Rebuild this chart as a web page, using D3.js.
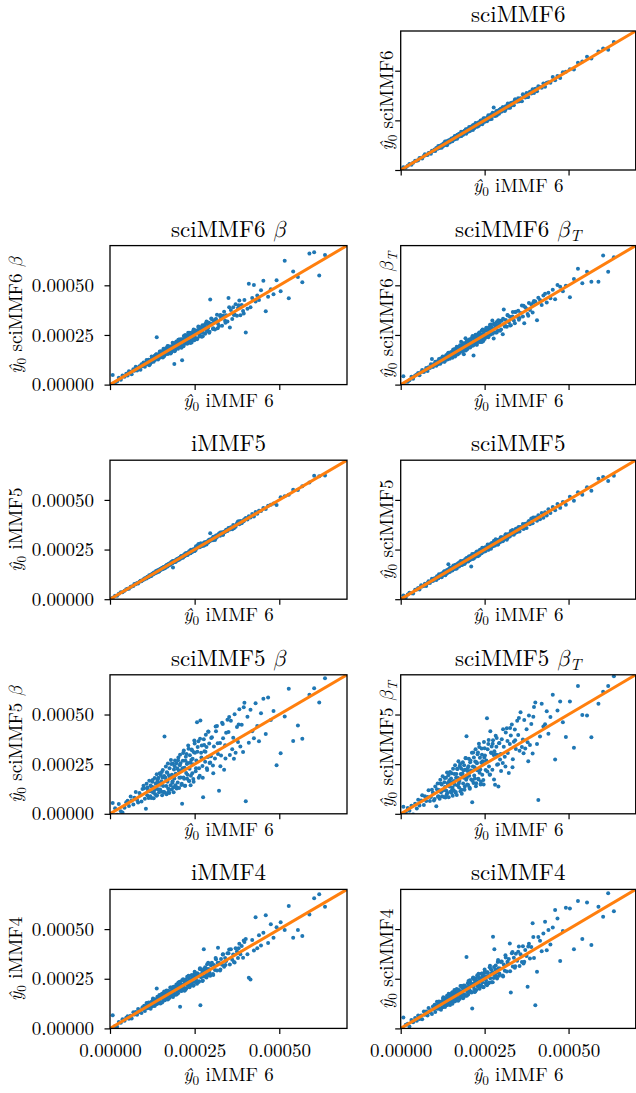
<!DOCTYPE html>
<html>
<head>
<meta charset="utf-8">
<script src="https://cdn.jsdelivr.net/npm/d3@7"></script>
<style>
  body { margin: 0; background: #fff; }
  svg { display: block; }
</style>
</head>
<body>
<svg id="chart" width="636" height="1093"></svg>
<script>
// all values in units of 1e-5

// y0 iMMF 6 (shared x of every panel)
var x_iMMF6 = [
  0.8, 1.5, 2.1, 2.6, 3.2, 3.7, 4.3, 4.8,
  5.2, 5.6, 6.1, 6.4, 6.9, 7.2, 7.6, 8.0, 8.3, 8.7, 9.0, 9.3, 9.6, 9.9,
  10.1, 10.3, 10.6, 10.8, 11.0, 11.2, 11.4, 11.6, 11.8, 12.0, 12.2, 12.3, 12.5, 12.7, 12.9, 13.0, 13.2, 13.3, 13.5, 13.6, 13.8, 13.9, 14.0, 14.2, 14.3, 14.5, 14.6, 14.7, 14.8, 14.9,
  15.0, 15.1, 15.2, 15.4, 15.5, 15.6, 15.7, 15.8, 16.0, 16.1, 16.2, 16.3, 16.5, 16.6, 16.7, 16.8, 17.0, 17.1, 17.2, 17.4, 17.5, 17.6, 17.8, 17.9, 18.0, 18.2, 18.3, 18.5, 18.6, 18.8, 18.9, 19.0, 19.2, 19.3, 19.5, 19.6, 19.8, 19.9,
  20.0, 20.1, 20.3, 20.4, 20.6, 20.7, 20.9, 21.0, 21.2, 21.3, 21.5, 21.7, 21.8, 22.0, 22.1, 22.3, 22.5, 22.6, 22.8, 23.0, 23.1, 23.3, 23.5, 23.6, 23.8, 24.0, 24.1, 24.3, 24.5, 24.6, 24.8, 24.9,
  25.1, 25.3, 25.5, 25.7, 25.9, 26.1, 26.3, 26.5, 26.7, 26.9, 27.1, 27.3, 27.5, 27.7, 27.9, 28.1, 28.3, 28.5, 28.7, 28.9, 29.1, 29.3, 29.6, 29.8,
  30.1, 30.4, 30.7, 31.0, 31.3, 31.6, 31.9, 32.2, 32.5, 32.8, 33.1, 33.4, 33.7, 34.0, 34.3, 34.7,
  35.0, 35.4, 35.7, 36.1, 36.4, 36.8, 37.1, 37.5, 37.8, 38.2, 38.5, 38.9, 39.3, 39.7,
  40.1, 40.6, 41.0, 41.5, 42.0, 42.5, 43.0, 43.5, 44.0, 44.6,
  45.3, 46.0, 46.7, 47.5, 48.3, 49.2,
  50.4, 51.6, 52.8, 54.1,
  55.5, 56.8, 58.9,
  60.3, 61.8, 63.5,
  11.1, 11.9, 12.6, 13.1, 13.7, 14.1, 14.4, 15.3, 15.9, 16.4,
  16.9, 17.3, 17.7, 18.1, 18.4, 18.7, 19.1, 19.4, 19.7, 20.2,
  20.5, 20.8, 21.1, 21.4, 21.6, 21.9, 22.2, 22.4, 22.7, 22.9,
  23.2, 23.4, 23.7, 23.9, 24.2, 24.4, 24.7, 25.0, 25.4, 25.8,
  26.2, 26.6, 27.0, 27.4, 27.8, 28.2, 28.6, 29.0, 29.4, 29.9,
  30.5, 31.2, 31.8, 32.6, 33.3, 34.1, 35.2, 36.6, 38.0, 39.5
];

var y_sciMMF6 = [
  1.4, 1.3, 2.2, 3.0, 2.7, 3.7, 4.6, 4.7,
  4.9, 6.1, 6.2, 5.8, 7.1, 7.9, 7.5, 7.6, 8.6, 8.7, 8.2, 9.7, 9.7, 9.7,
  10.3, 9.6, 11.1, 10.9, 10.7, 12.1, 11.3, 11.1, 12.2, 12.2, 11.2, 12.6, 12.3, 13.3, 12.9, 12.6, 14.3, 12.7, 13.6, 14.0, 12.5, 14.1, 13.7, 14.9, 14.2, 15.0, 13.8, 14.8, 15.1, 14.4,
  14.6, 15.9, 15.4, 14.5, 15.8, 15.6, 16.3, 15.3, 15.9, 17.1, 15.5, 16.7, 16.6, 16.3, 17.4, 15.7, 17.2, 17.6, 17.0, 18.3, 16.9, 17.6, 18.1, 17.1, 19.2, 17.8, 18.4, 19.1, 17.7, 19.0, 18.8, 19.8, 18.7, 19.7, 18.3, 19.9, 20.5, 19.7,
  20.5, 19.3, 20.4, 21.6, 20.3, 19.8, 21.5, 21.2, 20.7, 22.2, 20.2, 22.0, 21.8, 22.7, 21.5, 23.7, 22.3, 23.0, 21.8, 23.1, 23.9, 22.9, 23.7, 22.9, 24.9, 23.9, 24.6, 23.1, 24.8, 25.5, 24.3, 24.9,
  26.0, 24.9, 25.7, 24.6, 26.5, 27.6, 25.6, 26.6, 26.4, 27.9, 25.7, 27.7, 28.3, 31.5, 27.7, 27.2, 28.8, 29.7, 28.1, 28.9, 29.8, 28.3, 29.9, 30.9,
  29.5, 31.6, 31.0, 29.7, 32.1, 31.4, 33.5, 31.3, 32.9, 33.8, 32.6, 33.6, 32.6, 35.3, 34.9, 34.4,
  36.1, 34.6, 36.1, 34.6, 38.1, 37.0, 36.5, 38.8, 36.7, 38.7, 39.4, 38.5, 40.7, 38.8,
  40.9, 39.7, 42.2, 41.8, 41.4, 43.5, 41.9, 44.0, 44.2, 43.9,
  46.8, 45.2, 47.3, 46.3, 49.2, 49.5,
  50.8, 50.6, 54.0, 54.7,
  57.0, 56.1, 59.7,
  61.2, 60.6, 64.5,
  10.9, 12.3, 12.0, 13.4, 14.5, 13.7, 14.5, 14.6, 16.4, 16.4,
  17.8, 17.0, 17.9, 17.1, 19.0, 19.0, 18.6, 20.5, 19.5, 20.6,
  19.7, 21.5, 21.2, 21.0, 22.6, 21.0, 22.5, 23.0, 22.4, 23.1,
  22.1, 23.9, 23.6, 24.8, 23.6, 24.6, 26.0, 24.3, 25.8, 25.6,
  27.0, 25.6, 27.3, 28.8, 27.3, 28.3, 27.4, 29.6, 30.3, 29.5,
  31.6, 30.4, 32.3, 31.3, 34.0, 35.6, 34.6, 37.6, 36.8, 40.3
];

var y_sciMMF6_beta = [
  4.8, 0.2, 1.6, 3.4, 2.5, 4.6, 3.9, 5.5,
  4.6, 6.7, 6.4, 5.2, 7.7, 7.0, 9.0, 7.1, 8.4, 9.3, 7.5, 10.2, 9.3, 11.1,
  11.0, 9.0, 11.0, 12.4, 10.3, 11.0, 12.5, 9.8, 12.4, 12.2, 11.2, 14.2, 12.1, 13.5, 11.5, 13.3, 14.5, 12.4, 13.4, 15.1, 23.8, 13.3, 14.7, 12.6, 15.3, 14.6, 13.5, 16.7, 14.3, 15.4,
  13.8, 16.8, 15.5, 14.6, 16.6, 13.6, 16.3, 18.0, 15.6, 14.6, 17.1, 16.4, 15.4, 18.4, 16.1, 17.2, 19.4, 15.4, 17.4, 16.5, 18.9, 17.3, 18.6, 15.7, 19.2, 18.7, 17.0, 21.1, 18.4, 17.8, 20.5, 10.4, 19.9, 17.5, 20.5, 21.7, 19.1, 20.2,
  21.4, 18.0, 20.9, 22.7, 19.6, 20.4, 22.8, 19.4, 22.0, 12.2, 22.6, 19.3, 24.5, 22.2, 20.8, 23.9, 21.9, 24.6, 20.6, 23.9, 26.1, 22.2, 23.3, 26.1, 22.0, 25.2, 21.2, 24.8, 26.7, 23.2, 25.5, 22.3,
  27.4, 23.4, 26.2, 22.9, 27.4, 29.2, 25.4, 24.3, 27.9, 27.2, 24.1, 29.9, 26.1, 28.6, 29.9, 25.6, 28.7, 31.8, 27.0, 28.4, 31.3, 26.1, 42.8, 30.8,
  32.9, 28.0, 31.6, 27.7, 33.0, 35.2, 30.7, 29.5, 34.6, 33.2, 29.6, 34.7, 36.7, 32.2, 34.9, 31.8,
  43.6, 28.8, 37.6, 33.0, 39.0, 35.3, 40.5, 34.7, 38.6, 42.3, 34.9, 40.1, 37.1, 42.6,
  26.3, 38.2, 50.8, 39.0, 43.6, 50.2, 41.8, 44.9, 42.6, 47.5,
  52.3, 37.0, 44.3, 48.0, 45.5, 52.5,
  47.0, 62.4, 43.5, 57.0,
  54.2, 51.5, 66.0,
  66.6, 54.9, 65.3,
  11.7, 10.5, 13.6, 12.8, 15.3, 13.2, 14.6, 16.6, 14.2, 16.9,
  16.1, 19.3, 17.6, 16.2, 19.5, 19.1, 16.8, 21.1, 19.1, 22.6,
  19.3, 21.6, 18.6, 22.9, 21.7, 20.3, 25.0, 21.7, 23.7, 20.9,
  25.4, 23.0, 21.0, 25.3, 24.8, 22.5, 27.8, 23.9, 25.7, 23.2,
  28.9, 25.8, 28.9, 24.4, 28.3, 30.6, 27.1, 30.1, 26.6, 33.3,
  28.4, 32.8, 28.4, 35.1, 34.0, 31.2, 39.0, 35.0, 40.0, 35.8
];

var y_sciMMF6_betaT = [
  4.2, -0.3, 1.4, 2.2, 3.9, 3.0, 4.6, 5.1,
  5.9, 4.7, 6.3, 7.4, 6.4, 7.1, 8.4, 6.9, 8.7, 8.4, 10.2, 12.9, 8.9, 10.4,
  9.7, 11.5, 9.5, 11.1, 11.8, 10.6, 12.9, 11.4, 10.5, 12.9, 12.3, 11.5, 14.2, 12.4, 13.4, 11.5, 14.2, 13.5, 12.6, 14.9, 13.7, 12.7, 14.7, 16.1, 13.8, 14.9, 13.0, 15.8, 15.1, 14.2,
  16.4, 14.1, 15.5, 13.5, 16.4, 17.6, 15.3, 14.4, 17.1, 16.3, 14.1, 17.9, 15.8, 17.2, 19.0, 15.6, 16.8, 18.4, 15.5, 18.2, 17.6, 16.1, 19.7, 17.1, 21.6, 17.9, 19.3, 16.6, 20.8, 15.3, 19.4, 17.7, 21.0, 23.3, 18.6, 20.8, 17.8, 20.6,
  21.6, 18.7, 20.7, 22.7, 19.7, 18.7, 22.1, 21.1, 19.6, 23.9, 21.0, 14.6, 23.7, 20.8, 22.8, 25.1, 20.2, 22.9, 24.2, 22.0, 25.6, 21.5, 23.5, 25.3, 21.4, 24.9, 27.1, 23.0, 24.7, 22.0, 26.9, 24.3,
  27.1, 23.8, 28.6, 25.0, 27.3, 23.9, 28.9, 27.3, 25.1, 30.3, 28.2, 32.3, 26.5, 23.2, 30.1, 28.4, 26.3, 31.4, 29.7, 27.2, 32.4, 29.8, 27.1, 32.2,
  32.1, 25.4, 37.8, 29.2, 32.5, 29.1, 34.8, 31.4, 34.2, 29.9, 33.7, 36.6, 32.3, 30.9, 36.7, 34.2,
  37.2, 33.5, 36.1, 39.8, 34.3, 30.9, 38.9, 38.1, 35.5, 41.1, 37.6, 40.4, 36.3, 42.1,
  41.9, 32.4, 43.8, 42.6, 40.1, 44.9, 45.7, 41.3, 46.2, 43.5,
  47.8, 43.0, 50.1, 49.3, 47.0, 49.8,
  44.0, 53.2, 58.3, 51.0,
  56.8, 51.8, 51.8,
  65.0, 56.8, 64.1,
  10.2, 13.2, 12.8, 11.6, 14.5, 15.7, 13.8, 14.1, 17.8, 16.7,
  15.1, 18.2, 19.8, 17.7, 16.8, 20.1, 19.6, 17.2, 22.2, 20.9,
  19.2, 22.8, 20.9, 24.5, 19.7, 22.9, 24.6, 21.6, 20.1, 24.7,
  23.6, 26.3, 22.2, 25.1, 21.5, 27.7, 25.6, 23.0, 28.0, 27.3,
  25.1, 30.2, 29.0, 25.6, 30.6, 28.9, 26.2, 32.0, 30.7, 27.7,
  33.1, 29.5, 35.0, 29.8, 34.3, 36.5, 32.7, 39.7, 34.7, 41.4
];

var y_iMMF5 = [
  0.7, 1.7, 1.8, 2.7, 3.5, 3.5, 4.3, 5.0,
  5.3, 5.3, 6.3, 6.4, 6.7, 7.6, 7.5, 8.2, 7.9, 8.8, 9.3, 9.1, 9.6, 10.1,
  9.9, 10.6, 10.6, 10.4, 11.2, 11.3, 11.1, 12.1, 11.7, 12.2, 11.7, 12.4, 12.8, 12.5, 12.9, 13.4, 12.9, 13.4, 13.4, 14.2, 13.4, 14.1, 14.0, 14.0, 14.6, 13.9, 14.7, 15.1, 14.6, 15.0,
  15.3, 14.9, 15.2, 15.9, 15.1, 15.7, 15.6, 16.1, 15.4, 16.3, 16.2, 16.0, 16.9, 16.7, 16.5, 17.4, 16.5, 17.1, 17.4, 17.1, 18.0, 17.5, 17.9, 17.5, 18.3, 18.2, 18.1, 19.2, 16.0, 19.0, 18.6, 19.4, 19.2, 18.8, 19.8, 19.5, 20.0, 19.5,
  19.8, 20.5, 20.4, 19.9, 20.8, 20.6, 21.5, 20.7, 21.2, 21.6, 20.9, 21.9, 22.3, 21.8, 21.7, 22.4, 23.2, 22.3, 23.0, 22.5, 23.5, 23.3, 23.3, 24.2, 23.1, 24.3, 24.2, 23.9, 25.0, 24.5, 25.0, 24.3,
  25.4, 24.8, 26.1, 25.8, 27.1, 27.7, 27.2, 26.1, 28.1, 28.0, 26.9, 27.8, 26.9, 28.0, 28.7, 27.6, 28.5, 27.6, 29.1, 28.9, 29.7, 29.0, 33.2, 29.6,
  30.6, 29.7, 30.9, 29.8, 32.1, 31.3, 32.3, 33.1, 32.0, 32.9, 33.7, 32.5, 34.0, 33.8, 35.0, 34.3,
  35.8, 35.1, 36.2, 35.2, 37.4, 37.0, 36.5, 38.2, 39.1, 37.8, 39.4, 38.2, 39.6, 40.3,
  40.9, 40.1, 41.8, 41.2, 42.9, 41.6, 43.9, 43.0, 44.6, 44.4,
  45.9, 45.4, 47.0, 47.6, 48.2, 47.5,
  51.3, 51.9, 52.6, 55.1,
  55.0, 56.9, 58.8,
  62.2, 61.9, 62.3,
  11.3, 11.6, 13.0, 13.1, 13.5, 14.6, 14.0, 15.4, 16.2, 15.9,
  16.9, 17.7, 17.5, 18.7, 18.1, 18.8, 19.3, 18.8, 20.1, 20.1,
  20.8, 20.4, 21.7, 21.5, 21.1, 22.1, 23.0, 22.2, 23.1, 22.3,
  23.3, 24.1, 23.4, 24.9, 23.8, 24.9, 24.9, 24.3, 26.7, 26.7,
  27.7, 27.8, 26.7, 28.0, 27.0, 28.6, 28.7, 28.5, 30.1, 29.7,
  31.4, 30.6, 32.2, 33.6, 32.5, 34.4, 35.7, 35.7, 39.1, 39.2
];

var y_sciMMF5 = [
  1.9, 0.9, 2.4, 3.3, 3.0, 2.9, 4.8, 4.9,
  5.6, 4.9, 7.0, 6.4, 6.6, 7.8, 6.6, 8.2, 9.1, 8.2, 9.1, 10.3, 9.2, 9.8,
  10.6, 10.1, 9.7, 11.5, 11.1, 10.6, 12.6, 11.3, 12.2, 12.0, 11.1, 13.1, 12.7, 12.2, 13.9, 12.9, 13.8, 12.0, 13.8, 13.2, 14.7, 14.0, 13.3, 17.6, 14.1, 15.0, 13.7, 15.8, 14.8, 14.3,
  14.7, 16.0, 15.4, 14.4, 16.1, 15.1, 17.0, 15.7, 16.4, 15.3, 16.3, 17.4, 15.9, 16.9, 15.5, 17.5, 17.0, 16.7, 18.2, 16.5, 18.0, 17.8, 17.1, 19.3, 17.8, 18.8, 17.2, 18.8, 19.4, 18.3, 19.0, 17.7, 20.1, 19.7, 18.9, 20.8, 19.6, 20.4,
  20.7, 19.0, 20.6, 21.6, 20.2, 19.9, 21.8, 16.5, 21.3, 22.8, 20.9, 22.1, 20.5, 22.8, 22.3, 21.4, 23.6, 22.3, 23.3, 21.6, 24.0, 23.4, 22.8, 24.9, 23.6, 24.6, 23.1, 25.9, 24.8, 24.0, 25.8, 24.5,
  26.0, 24.3, 25.9, 25.1, 27.6, 24.9, 26.6, 27.3, 26.3, 25.4, 28.3, 27.4, 26.7, 28.7, 28.4, 27.0, 30.2, 28.2, 29.3, 27.6, 29.9, 29.5, 28.7, 31.2,
  31.2, 29.2, 31.2, 30.7, 32.7, 30.0, 32.7, 32.4, 31.6, 34.3, 32.6, 34.3, 32.4, 34.4, 35.5, 33.9,
  36.1, 34.1, 36.3, 35.7, 37.9, 35.8, 38.0, 35.9, 38.1, 39.4, 37.8, 40.7, 38.2, 40.2,
  41.2, 39.5, 42.3, 40.2, 43.4, 41.0, 43.8, 42.1, 45.3, 43.4,
  46.4, 44.8, 47.9, 46.0, 49.0, 47.6,
  51.6, 49.6, 53.9, 52.6,
  56.4, 54.6, 60.6,
  61.5, 59.5, 62.2,
  10.6, 12.6, 12.4, 14.1, 12.9, 14.4, 15.3, 14.7, 16.0, 15.3,
  17.7, 17.0, 18.9, 17.4, 18.6, 19.2, 18.1, 20.0, 19.3, 21.3,
  19.6, 21.1, 21.8, 20.2, 22.0, 22.9, 21.7, 22.3, 24.0, 22.1,
  23.8, 22.1, 23.9, 24.8, 23.6, 25.8, 24.5, 24.0, 26.2, 26.1,
  25.0, 27.7, 27.4, 26.7, 29.4, 27.9, 29.3, 27.6, 29.9, 30.9,
  29.6, 32.5, 30.7, 33.2, 34.8, 33.3, 36.4, 35.3, 38.9, 41.1
];

var y_sciMMF5_beta = [
  5.5, 2.8, -0.5, 4.9, 1.3, 0.6, 3.0, 5.8,
  6.6, 3.9, 8.7, 6.7, 4.7, 8.1, 11.0, 7.0, 5.7, 10.5, 9.4, 6.2, 12.5, 14.1,
  12.9, 7.6, 2.5, 15.1, 9.4, 12.1, 8.0, 16.6, 11.3, 14.2, 8.0, 13.6, 16.1, 10.7, 7.8, 13.4, 18.0, 10.0, 15.2, 12.7, 19.9, 9.3, 16.5, 12.4, 18.2, 10.9, 15.4, 20.4, 12.3, 14.6,
  19.5, 11.2, 16.4, 9.4, 18.3, 22.0, 14.0, 11.0, 19.0, 38.9, 10.7, 18.2, 23.8, 14.0, 9.9, 20.9, 16.2, 25.3, 12.8, 19.4, 10.5, 22.9, 18.4, 14.4, 27.1, 12.3, 19.7, 16.4, 25.2, 10.8, 22.3, 17.8, 26.9, 14.4, 19.7, 25.4, 13.3, 22.8,
  15.8, 27.0, 21.8, 13.0, 24.4, 29.7, 18.3, 21.7, 15.1, 5.0, 26.7, 18.3, 31.9, 23.2, 14.1, 26.7, 20.6, 30.1, 17.6, 25.6, 34.4, 16.6, 22.7, 29.5, 14.4, 27.1, 32.4, 20.4, 24.9, 17.5, 31.0, 36.9,
  30.8, 21.4, 26.9, 46.1, 33.6, 36.5, 22.9, 19.2, 47.0, 30.8, 34.4, 24.1, 8.3, 37.6, 31.5, 26.2, 39.8, 33.7, 22.0, 28.6, 41.3, 35.4, 25.8, 29.0,
  38.5, 24.3, 33.9, 27.8, 41.6, 44.2, 30.1, 11.6, 35.7, 29.4, 45.8, 38.0, 22.2, 34.5, 40.8, 47.4,
  41.2, 29.6, 46.8, 32.5, 38.3, 50.1, 30.8, 43.7, 36.2, 52.6, 33.9, 44.8, 31.1, 55.9,
  6.3, 48.9, 35.8, 52.4, 41.6, 38.0, 55.7, 44.2, 36.5, 50.6,
  57.9, 40.2, 58.6, 47.3, 51.8, 24.5,
  30.5, 49.0, 63.0, 36.6,
  44.5, 37.8, 60.0,
  63.2, 56.0, 68.3,
  13.2, 8.9, 17.0, 11.9, 9.1, 17.4, 14.9, 21.1, 11.0, 18.1,
  20.7, 11.1, 18.8, 25.1, 15.6, 13.2, 24.0, 20.2, 12.7, 28.3,
  18.2, 25.4, 14.5, 23.0, 30.6, 17.6, 14.1, 28.7, 25.1, 19.7,
  32.8, 16.5, 25.7, 19.2, 32.0, 27.7, 16.1, 35.4, 22.9, 31.2,
  18.2, 37.8, 28.3, 18.2, 34.7, 31.2, 23.0, 41.4, 25.6, 38.2,
  20.4, 44.0, 35.5, 24.0, 45.2, 27.9, 48.7, 27.7, 45.0, 53.7
];

var y_sciMMF5_betaT = [
  3.6, 0.8, 2.9, 1.5, 4.1, -0.4, 5.0, 2.7,
  7.1, 4.2, 6.7, 9.4, 4.4, 8.9, 6.5, 8.4, 11.9, 6.4, 8.4, 12.1, 10.7, 6.7,
  7.4, 13.8, 3.8, 12.4, 15.2, 8.9, 12.0, 7.6, 17.1, 10.8, 14.8, 8.8, 18.9, 11.9, 8.5, 15.9, 13.5, 8.2, 18.1, 11.6, 20.8, 10.5, 15.2, 19.4, 8.3, 16.9, 13.7, 21.0, 11.1, 15.9,
  17.8, 10.6, 20.4, 13.3, 9.1, 22.7, 16.0, 11.9, 20.0, 14.6, 24.4, 10.7, 18.1, 20.0, 9.5, 22.7, 14.3, 18.0, 26.5, 13.3, 16.5, 23.9, 11.3, 20.1, 22.8, 10.1, 19.4, 26.0, 15.3, 18.2, 24.5, 12.1, 22.2, 28.1, 17.1, 39.0, 14.7, 21.6,
  23.1, 14.5, 27.7, 19.1, 12.6, 25.9, 21.8, 17.3, 30.8, 5.8, 23.8, 15.5, 28.3, 23.4, 17.8, 32.5, 15.4, 25.9, 21.9, 30.9, 17.6, 35.3, 20.7, 28.2, 14.8, 25.8, 32.9, 19.7, 25.0, 17.0, 36.1, 28.4,
  29.4, 22.1, 26.8, 48.1, 32.5, 35.2, 23.8, 19.7, 41.6, 30.9, 33.9, 22.2, 37.0, 29.6, 31.5, 14.6, 39.3, 33.8, 24.7, 29.6, 13.7, 35.5, 27.4, 30.1,
  37.5, 25.6, 33.8, 28.7, 40.9, 43.1, 30.6, 20.5, 35.2, 39.4, 45.0, 27.5, 36.3, 42.4, 32.6, 46.9,
  39.7, 31.8, 51.2, 33.6, 37.4, 47.3, 32.9, 42.6, 36.0, 49.5, 34.7, 45.2, 30.4, 53.8,
  56.0, 35.2, 7.0, 38.9, 55.4, 44.0, 45.1, 51.6, 40.3, 48.7,
  59.9, 27.3, 52.0, 56.5, 46.1, 38.7,
  56.6, 33.2, 64.3, 49.8,
  49.5, 38.6, 55.4,
  61.5, 64.3, 69.3,
  8.6, 15.3, 11.8, 18.0, 9.7, 15.6, 20.5, 12.1, 16.5, 11.0,
  22.6, 15.2, 25.1, 12.1, 20.3, 21.9, 13.8, 28.0, 18.1, 24.0,
  13.2, 26.8, 21.5, 16.6, 30.9, 19.3, 26.3, 13.9, 25.4, 30.0,
  17.3, 33.6, 22.3, 16.2, 29.7, 26.5, 14.8, 33.0, 26.3, 21.3,
  37.2, 19.8, 30.6, 35.3, 17.3, 30.0, 38.2, 25.0, 35.6, 21.6,
  42.6, 23.8, 36.6, 43.2, 23.5, 37.0, 48.2, 30.5, 26.5, 48.9
];

var y_iMMF4 = [
  6.6, 1.2, 0.8, 3.2, 2.9, 4.6, 3.8, 5.4,
  6.1, 4.8, 6.4, 5.0, 8.1, 7.0, 8.2, 6.9, 9.8, 8.2, 9.2, 7.7, 10.6, 9.6,
  11.4, 8.7, 11.0, 12.8, 10.1, 11.1, 13.1, 10.3, 12.4, 9.9, 13.3, 12.5, 11.1, 15.0, 12.4, 13.8, 11.3, 14.7, 13.6, 12.5, 20.1, 13.2, 15.9, 12.5, 14.8, 14.2, 16.8, 13.3, 15.7, 12.5,
  13.2, 16.6, 15.5, 13.0, 17.6, 15.0, 16.6, 14.5, 18.6, 15.9, 14.2, 17.5, 17.0, 15.1, 19.1, 15.9, 17.2, 14.5, 19.0, 17.0, 18.5, 15.4, 20.6, 16.8, 18.3, 16.3, 19.9, 17.8, 15.8, 21.0, 19.5, 17.4, 20.5, 17.0, 20.4, 22.1, 18.6, 19.7,
  22.2, 17.7, 21.0, 19.1, 23.5, 10.9, 22.3, 18.9, 21.5, 24.3, 19.8, 21.2, 24.1, 19.0, 23.0, 23.9, 20.0, 22.8, 26.0, 21.6, 22.5, 25.4, 20.7, 24.7, 24.2, 21.8, 26.8, 23.3, 26.3, 21.5, 25.3, 27.3,
  28.0, 23.3, 26.1, 22.5, 27.7, 26.3, 23.7, 29.9, 11.7, 25.8, 29.4, 23.9, 28.4, 39.9, 26.1, 30.8, 27.9, 25.6, 32.3, 29.9, 26.9, 29.8, 26.5, 31.8,
  33.0, 27.4, 31.9, 29.4, 34.8, 29.2, 40.6, 33.0, 29.2, 35.0, 32.1, 37.3, 31.0, 35.5, 33.9, 37.8,
  37.9, 32.2, 39.8, 34.6, 37.2, 33.2, 40.4, 38.7, 35.4, 42.6, 37.4, 41.5, 35.6, 43.5,
  45.0, 37.3, 25.5, 24.6, 44.5, 39.2, 56.0, 40.4, 46.9, 41.8,
  48.2, 57.0, 43.0, 52.5, 45.7, 51.0,
  53.4, 49.5, 61.6, 45.6,
  49.5, 46.5, 57.4,
  65.5, 67.6, 61.2,
  11.9, 10.7, 14.2, 12.7, 12.2, 15.2, 14.6, 17.3, 14.0, 17.0,
  18.2, 15.1, 18.1, 20.6, 17.4, 16.7, 20.9, 19.7, 17.1, 23.1,
  19.7, 22.4, 18.8, 22.0, 24.7, 20.4, 19.3, 24.6, 23.6, 21.8,
  26.5, 21.0, 24.4, 22.2, 26.8, 25.6, 21.7, 28.5, 24.5, 27.7,
  23.4, 30.3, 27.4, 24.1, 30.1, 29.3, 26.6, 33.0, 28.0, 32.7,
  26.9, 35.4, 33.1, 29.6, 37.2, 31.9, 39.7, 33.5, 40.4, 44.3
];

var y_sciMMF4 = [
  5.5, 1.8, 2.3, 0.9, 4.2, 3.1, 5.2, 3.9,
  6.5, 4.7, 6.5, 4.6, 8.5, 6.9, 8.5, 6.5, 10.3, 8.1, 9.1, 7.2, 11.0, 9.7,
  11.9, 8.3, 11.1, 13.4, 9.9, 11.0, 13.6, 9.9, 12.6, 9.4, 13.6, 12.6, 10.7, 15.7, 12.2, 14.0, 10.8, 15.2, 13.7, 12.2, 16.5, 13.0, 14.6, 12.0, 17.5, 14.1, 16.1, 11.8, 15.7, 13.7,
  12.8, 17.1, 15.6, 12.4, 18.2, 14.8, 16.9, 14.2, 19.3, 15.8, 13.7, 17.9, 17.1, 14.7, 19.8, 15.7, 17.3, 13.9, 19.5, 16.9, 18.8, 14.9, 21.4, 16.5, 18.4, 15.8, 20.3, 17.6, 15.2, 21.6, 19.7, 17.0, 20.9, 16.4, 20.6, 36.0, 18.3, 19.6,
  22.8, 17.1, 21.2, 18.8, 24.2, 18.5, 22.7, 18.4, 21.6, 10.0, 25.2, 21.1, 24.7, 18.3, 23.2, 24.3, 19.4, 22.9, 26.8, 21.2, 22.4, 25.9, 20.0, 25.0, 24.3, 21.3, 27.5, 23.1, 26.7, 20.7, 25.4, 27.9,
  28.7, 22.8, 26.3, 21.7, 28.1, 26.4, 23.1, 30.8, 25.3, 29.8, 23.3, 28.4, 46.1, 25.4, 39.8, 26.8, 31.7, 28.0, 25.1, 33.4, 30.3, 26.5, 30.2, 33.6,
  33.7, 26.7, 32.2, 29.0, 35.7, 28.6, 32.9, 34.9, 42.8, 18.1, 37.9, 31.2, 35.6, 30.6, 37.6, 34.1,
  38.6, 31.4, 37.4, 33.5, 41.4, 33.6, 39.5, 36.5, 21.0, 42.6, 35.2, 41.0, 52.9, 35.5,
  11.7, 28.5, 46.0, 44.2, 38.9, 47.8, 53.7, 39.4, 49.6, 42.3,
  50.8, 59.6, 55.4, 34.0, 49.0, 60.8,
  60.4, 39.8, 64.1, 45.0,
  63.4, 42.0, 61.2,
  56.2, 68.0, 59.0,
  12.1, 10.1, 14.9, 12.6, 11.6, 15.7, 14.7, 18.1, 13.5, 17.3,
  18.8, 14.4, 18.3, 21.4, 17.0, 16.1, 21.5, 19.8, 16.5, 23.9,
  19.4, 23.0, 18.1, 22.2, 25.6, 19.9, 18.6, 25.3, 23.9, 21.4,
  27.5, 20.3, 24.7, 21.7, 27.7, 26.0, 20.9, 29.6, 24.2, 28.3,
  22.7, 31.5, 27.6, 23.3, 30.9, 29.7, 26.0, 34.4, 27.6, 33.6,
  26.1, 36.8, 33.6, 28.8, 38.5, 31.3, 41.2, 32.7, 41.2, 46.0
];

var tick_vals = [0, 25, 50];
var tick_labels = ["0.00000", "0.00025", "0.00050"];
var axis_max = 70;

// grid slot [row, col], title, greek suffix, values
var panels = [
  { row: 0, col: 1, name: "sciMMF6", greek: "",   ys: y_sciMMF6 },
  { row: 1, col: 0, name: "sciMMF6", greek: "b",  ys: y_sciMMF6_beta },
  { row: 1, col: 1, name: "sciMMF6", greek: "bT", ys: y_sciMMF6_betaT },
  { row: 2, col: 0, name: "iMMF5",   greek: "",   ys: y_iMMF5 },
  { row: 2, col: 1, name: "sciMMF5", greek: "",   ys: y_sciMMF5 },
  { row: 3, col: 0, name: "sciMMF5", greek: "b",  ys: y_sciMMF5_beta },
  { row: 3, col: 1, name: "sciMMF5", greek: "bT", ys: y_sciMMF5_betaT },
  { row: 4, col: 0, name: "iMMF4",   greek: "",   ys: y_iMMF4 },
  { row: 4, col: 1, name: "sciMMF4", greek: "",   ys: y_sciMMF4 }
];

var col_x = [110, 400.7];
var col_w = [237, 235];
var row_y0 = 31, row_step = 214.6, plot_h = 139;
var last_row = 4;

var serif = "'Latin Modern Roman', 'Liberation Serif', serif";
var greekFont = "'Latin Modern Math', 'Liberation Serif', serif";

var svg = d3.select("#chart").attr("font-family", serif);

// y-hat with subscript 0, then a name, then an optional italic beta
function writeLabel(t, name, greek, hat) {
  if (hat) {
    t.append("tspan").attr("font-style", "italic").text("ŷ");
    t.append("tspan").attr("font-size", "0.7em").attr("dy", 4).text("0");
    t.append("tspan").attr("dy", -4).text(" " + name);
  } else {
    t.append("tspan").text(name);
  }
  if (greek) {
    t.append("tspan").text(" ");
    t.append("tspan").attr("font-family", greekFont).attr("font-style", "italic").text("β");
    if (greek == "bT") {
      t.append("tspan").attr("font-style", "italic").attr("font-size", "0.7em").attr("dy", 4).text("T");
      t.append("tspan").attr("dy", -4).text("");
    }
  }
}

panels.forEach(function(p, k) {
  var w = col_w[p.col], h = plot_h;
  var left = col_x[p.col], top = row_y0 + row_step * p.row;

  var x = d3.scaleLinear().domain([0, axis_max]).range([0, w]);
  var y = d3.scaleLinear().domain([0, axis_max]).range([h, 0]);

  var g = svg.append("g").attr("transform", "translate(" + left + "," + top + ")");

  g.append("clipPath").attr("id", "clip" + k)
    .append("rect").attr("width", w).attr("height", h);

  var plot = g.append("g").attr("clip-path", "url(#clip" + k + ")");

  var pts = x_iMMF6.map(function(v, i) { return [v, p.ys[i]]; })
    .filter(function(d) { return d[1] !== undefined; });

  plot.selectAll("circle").data(pts).enter().append("circle")
    .attr("cx", function(d) { return x(d[0]); })
    .attr("cy", function(d) { return y(d[1]); })
    .attr("r", 2)
    .attr("fill", "#1f77b4");

  plot.append("line")
    .attr("x1", x(x.domain()[0])).attr("y1", y(y.domain()[0]))
    .attr("x2", x(x.domain()[1])).attr("y2", y(y.domain()[1]))
    .attr("stroke", "#ff7f0e")
    .attr("stroke-width", 3);

  // axes
  var xa = d3.axisBottom(x).tickValues(tick_vals).tickSize(5.5).tickPadding(9.5)
    .tickFormat(function(d, i) { return p.row == last_row ? tick_labels[i] : ""; });
  var ya = d3.axisLeft(y).tickValues(tick_vals).tickSize(5.5).tickPadding(10.5)
    .tickFormat(function(d, i) { return p.col == 0 ? tick_labels[i] : ""; });

  var gx = g.append("g").attr("transform", "translate(0," + h + ")").call(xa);
  var gy = g.append("g").call(ya);
  [gx, gy].forEach(function(a) {
    a.select(".domain").remove();
    a.attr("font-family", serif).attr("font-size", 19);
    a.selectAll("line").attr("stroke", "#000").attr("stroke-width", 1.2);
  });

  g.append("rect")
    .attr("width", w).attr("height", h)
    .attr("fill", "none").attr("stroke", "#000").attr("stroke-width", 1.3);

  // title
  var title = g.append("text")
    .attr("x", w / 2).attr("y", -9)
    .attr("text-anchor", "middle")
    .attr("font-size", 23);
  writeLabel(title, p.name, p.greek, false);

  // x label
  var xl = g.append("text")
    .attr("x", w / 2).attr("y", h + (p.row == last_row ? 53 : 22))
    .attr("text-anchor", "middle")
    .attr("font-size", 19);
  writeLabel(xl, "iMMF 6", "", true);

  // y label
  var yoff = p.col == 0 ? 88 : 8;
  var yl = g.append("text")
    .attr("transform", "translate(" + (-yoff) + "," + (h / 2) + ") rotate(-90)")
    .attr("text-anchor", "middle")
    .attr("font-size", 19);
  writeLabel(yl, p.name, p.greek, true);
});
</script>
</body>
</html>
